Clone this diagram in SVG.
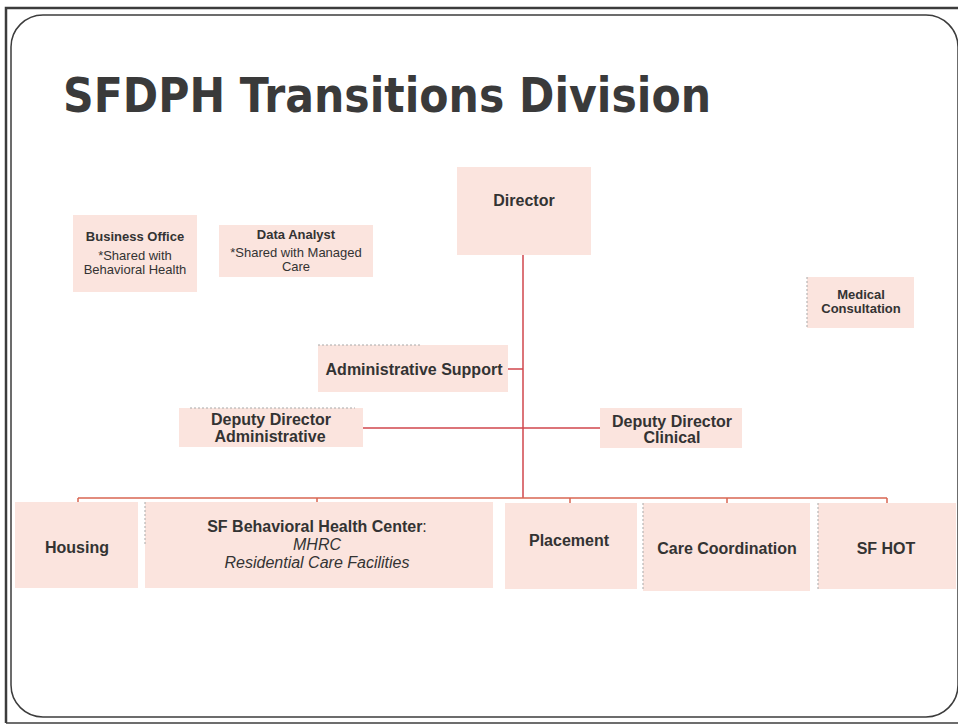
<svg xmlns="http://www.w3.org/2000/svg" width="958" height="725" viewBox="0 0 958 725">
  <style>
    .frame { fill: none; stroke: #3c3c3c; }
    .box { fill: #fbe4de; stroke: none; }
    .edge { fill: none; stroke: #a9a9a9; stroke-width: 1; stroke-dasharray: 2 2; }
    .link { fill: none; stroke: #d0464c; stroke-width: 1.5; }
    .bus { fill: none; stroke: #d86652; stroke-width: 1.5; }
    .title { font-family: "DejaVu Sans", Verdana, sans-serif; font-weight: bold; font-size: 48px; fill: #3a3a3a; }
    .lbl { font-family: "Liberation Sans", Arial, sans-serif; font-weight: bold; font-size: 16px; fill: #333333; text-anchor: middle; }
    .sm { font-family: "Liberation Sans", Arial, sans-serif; font-weight: bold; font-size: 13px; fill: #333333; text-anchor: middle; }
    .smr { font-family: "Liberation Sans", Arial, sans-serif; font-size: 13px; fill: #333333; text-anchor: middle; }
    .it { font-family: "Liberation Sans", Arial, sans-serif; font-style: italic; font-size: 16px; fill: #333333; text-anchor: middle; }
  </style>

  <rect width="958" height="725" fill="#ffffff"/>

  <!-- slide frame -->
  <g id="frame">
    <path class="frame" stroke-width="2.5" d="M6,723 V8 H958"/>
    <path class="frame" stroke-width="1.5" stroke="#8a8a8a" d="M6,723 H958"/>
    <rect class="frame" stroke-width="1.5" x="11" y="15" width="947" height="702" rx="32" ry="32"/>
  </g>

  <text class="title" x="63" y="112" textLength="648" lengthAdjust="spacingAndGlyphs">SFDPH Transitions Division</text>

  <!-- connectors -->
  <g id="connectors">
    <line class="link" x1="523" y1="255" x2="523" y2="498"/>
    <line class="link" x1="508" y1="369" x2="523" y2="369"/>
    <line class="link" x1="363" y1="428" x2="600" y2="428"/>
    <line class="bus" x1="78" y1="498" x2="887" y2="498"/>
    <line class="bus" x1="78" y1="498" x2="78" y2="502"/>
    <line class="bus" x1="317" y1="498" x2="317" y2="502"/>
    <line class="bus" x1="570" y1="498" x2="570" y2="503"/>
    <line class="bus" x1="727" y1="498" x2="727" y2="503"/>
    <line class="bus" x1="887" y1="498" x2="887" y2="503"/>
  </g>

  <g id="director">
    <rect class="box" x="457" y="167" width="134" height="88"/>
    <text class="lbl" x="524" y="206">Director</text>
  </g>

  <g id="business-office">
    <rect class="box" x="73" y="215" width="124" height="77"/>
    <text class="sm" x="135" y="241">Business Office</text>
    <text class="smr" x="135" y="260">*Shared with</text>
    <text class="smr" x="135" y="274">Behavioral Health</text>
  </g>

  <g id="data-analyst">
    <rect class="box" x="219" y="225" width="154" height="52"/>
    <text class="sm" x="296" y="239">Data Analyst</text>
    <text class="smr" x="296" y="257">*Shared with Managed</text>
    <text class="smr" x="296" y="271">Care</text>
  </g>

  <g id="medical-consultation">
    <rect class="box" x="807" y="277" width="107" height="51"/>
    <line class="edge" x1="807" y1="277" x2="807" y2="328"/>
    <text class="sm" x="861" y="299">Medical</text>
    <text class="sm" x="861" y="313">Consultation</text>
  </g>

  <g id="administrative-support">
    <rect class="box" x="318" y="345" width="190" height="47"/>
    <line class="edge" x1="318" y1="345" x2="420" y2="345"/>
    <text class="lbl" x="414" y="375">Administrative Support</text>
  </g>

  <g id="deputy-director-administrative">
    <rect class="box" x="179" y="408" width="184" height="39"/>
    <line class="edge" x1="190" y1="408" x2="355" y2="408"/>
    <text class="lbl" x="271" y="425">Deputy Director</text>
    <text class="lbl" x="270" y="442">Administrative</text>
  </g>

  <g id="deputy-director-clinical">
    <rect class="box" x="600" y="408" width="142" height="40"/>
    <text class="lbl" x="672" y="427">Deputy Director</text>
    <text class="lbl" x="672" y="443">Clinical</text>
  </g>

  <g id="housing">
    <rect class="box" x="15" y="502" width="123" height="86"/>
    <text class="lbl" x="77" y="553">Housing</text>
  </g>

  <g id="sf-behavioral-health-center">
    <rect class="box" x="145" y="502" width="348" height="86"/>
    <line class="edge" x1="145" y1="502" x2="145" y2="545"/>
    <text class="lbl" x="317" y="532">SF Behavioral Health Center<tspan font-weight="normal">:</tspan></text>
    <text class="it" x="317" y="550">MHRC</text>
    <text class="it" x="317" y="568">Residential Care Facilities</text>
  </g>

  <g id="placement">
    <rect class="box" x="505" y="503" width="132" height="86"/>
    <text class="lbl" x="569" y="546">Placement</text>
  </g>

  <g id="care-coordination">
    <rect class="box" x="643" y="503" width="167" height="88"/>
    <line class="edge" x1="643" y1="503" x2="643" y2="590"/>
    <text class="lbl" x="727" y="554">Care Coordination</text>
  </g>

  <g id="sf-hot">
    <rect class="box" x="818" y="503" width="138" height="86"/>
    <line class="edge" x1="818" y1="503" x2="818" y2="589"/>
    <text class="lbl" x="886" y="554">SF HOT</text>
  </g>
</svg>
